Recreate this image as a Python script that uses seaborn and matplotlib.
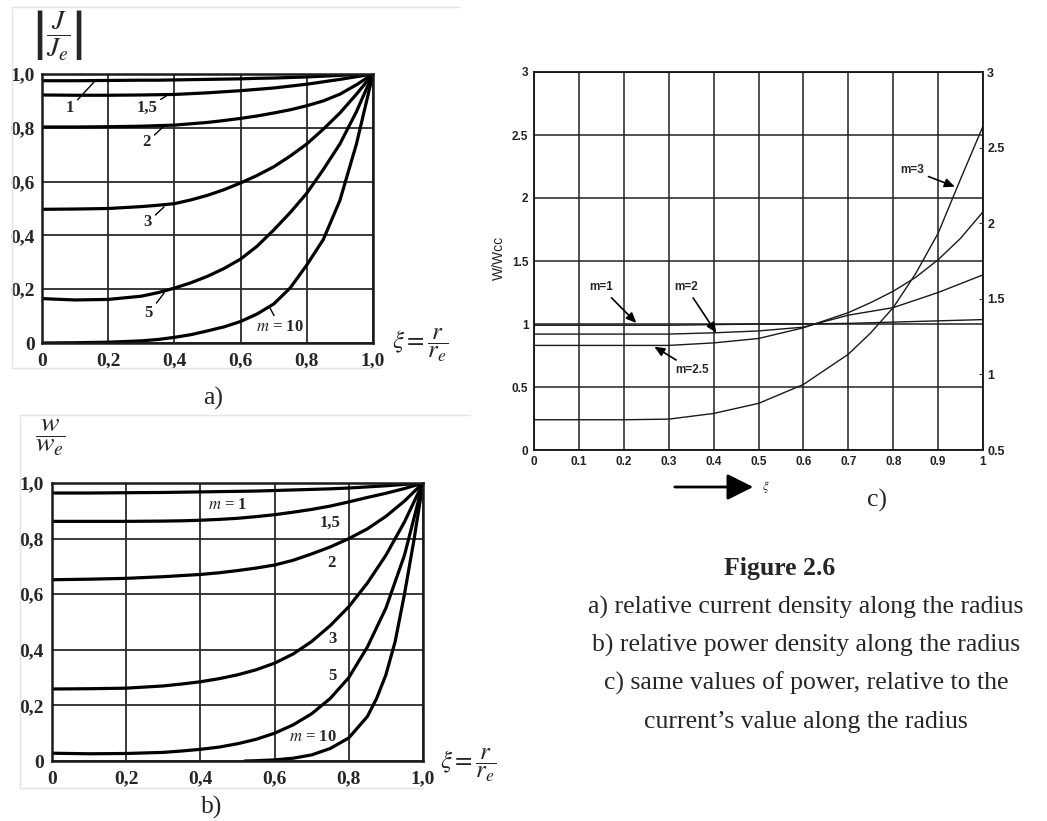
import pandas as pd
import matplotlib
matplotlib.use('Agg')
import matplotlib.pyplot as plt
from matplotlib.lines import Line2D
from matplotlib.patches import FancyArrowPatch
import seaborn as sns

sns.set_theme(style='white')
plt.rcParams['font.family'] = ['Liberation Serif', 'DejaVu Serif']
plt.rcParams['mathtext.fontset'] = 'stix'

W, H = 1047, 821

# --- data ---
# a) |J/Je| vs xi
xi_a = [0, 0.1, 0.2, 0.3, 0.35, 0.4, 0.45, 0.5, 0.55, 0.6, 0.65, 0.7, 0.75, 0.8, 0.85, 0.9, 0.95, 1.0]
j_m1 = [0.975, 0.975, 0.976, 0.977, 0.977, 0.978, 0.979, 0.98, 0.981, 0.982, 0.984, 0.985, 0.987, 0.989, 0.992, 0.995, 0.998, 1.0]
j_m15 = [0.922, 0.921, 0.921, 0.922, 0.923, 0.924, 0.927, 0.93, 0.934, 0.938, 0.943, 0.948, 0.955, 0.962, 0.971, 0.98, 0.99, 1.0]
j_m2 = [0.803, 0.803, 0.804, 0.806, 0.808, 0.81, 0.815, 0.82, 0.827, 0.835, 0.844, 0.855, 0.867, 0.882, 0.9, 0.925, 0.96, 1.0]
j_m3 = [0.497, 0.498, 0.5, 0.507, 0.512, 0.518, 0.532, 0.549, 0.57, 0.595, 0.623, 0.655, 0.695, 0.74, 0.795, 0.855, 0.925, 1.0]
j_m5 = [0.165, 0.16, 0.162, 0.174, 0.187, 0.204, 0.224, 0.248, 0.277, 0.312, 0.36, 0.42, 0.485, 0.557, 0.645, 0.74, 0.86, 1.0]
j_m10 = [0, 0.001, 0.003, 0.008, 0.013, 0.021, 0.031, 0.045, 0.06, 0.08, 0.108, 0.145, 0.205, 0.29, 0.385, 0.53, 0.74, 1.0]

# b) w/we vs xi
xi_b = [0, 0.1, 0.2, 0.3, 0.35, 0.4, 0.45, 0.5, 0.55, 0.6, 0.65, 0.7, 0.75, 0.8, 0.85, 0.9, 0.95, 1.0]
w_m1 = [0.964, 0.964, 0.965, 0.966, 0.967, 0.968, 0.969, 0.97, 0.971, 0.973, 0.975, 0.977, 0.979, 0.982, 0.986, 0.99, 0.995, 1.0]
w_m15 = [0.862, 0.862, 0.862, 0.863, 0.864, 0.866, 0.869, 0.873, 0.879, 0.886, 0.895, 0.905, 0.917, 0.932, 0.948, 0.963, 0.98, 1.0]
w_m2 = [0.652, 0.654, 0.657, 0.663, 0.667, 0.671, 0.677, 0.685, 0.694, 0.705, 0.722, 0.745, 0.77, 0.8, 0.835, 0.88, 0.935, 1.0]
w_m3 = [0.259, 0.26, 0.262, 0.27, 0.277, 0.285, 0.296, 0.31, 0.328, 0.352, 0.385, 0.43, 0.487, 0.555, 0.64, 0.74, 0.86, 1.0]
w_m5 = [0.028, 0.026, 0.027, 0.031, 0.036, 0.042, 0.05, 0.062, 0.078, 0.1, 0.13, 0.17, 0.225, 0.3, 0.41, 0.55, 0.74, 1.0]
xi_b10 = [0.52, 0.55, 0.6, 0.65, 0.7, 0.75, 0.8, 0.85, 0.875, 0.9, 0.925, 0.95, 0.975, 1.0]
w_m10 = [0, 0.001, 0.004, 0.01, 0.022, 0.045, 0.083, 0.16, 0.225, 0.31, 0.43, 0.6, 0.79, 1.0]

# c) W/Wcc vs xi
xi_c = [0, 0.1, 0.2, 0.3, 0.4, 0.5, 0.6, 0.7, 0.75, 0.8, 0.85, 0.9, 0.95, 1.0]
c_m1 = [0.99, 0.99, 0.99, 0.99, 0.995, 1.0, 1.0, 1.005, 1.01, 1.015, 1.02, 1.025, 1.03, 1.035]
c_m2 = [0.92, 0.92, 0.92, 0.92, 0.93, 0.945, 0.975, 1.07, 1.1, 1.13, 1.19, 1.25, 1.32, 1.39]
c_m25 = [0.83, 0.83, 0.83, 0.83, 0.85, 0.885, 0.97, 1.09, 1.17, 1.26, 1.37, 1.51, 1.68, 1.89]
c_m3 = [0.24, 0.24, 0.24, 0.245, 0.29, 0.37, 0.52, 0.76, 0.93, 1.13, 1.4, 1.72, 2.15, 2.57]

ticks_ab = [0, 0.2, 0.4, 0.6, 0.8, 1.0]
ticklabels_ab = ['0', '0,2', '0,4', '0,6', '0,8', '1,0']
ticks_cx = [i / 10 for i in range(11)]
ticklabels_cx = ['0', '0.1', '0.2', '0.3', '0.4', '0.5', '0.6', '0.7', '0.8', '0.9', '1']
ticks_cy = [0, 0.5, 1, 1.5, 2, 2.5, 3]
ticklabels_cy = ['0', '0.5', '1', '1.5', '2', '2.5', '3']
ticks_cr = [0.5, 1, 1.5, 2, 2.5, 3]
ticklabels_cr = ['0.5', '1', '1.5', '2', '2.5', '3']


def long_df(x, series):
    parts = []
    for name, vals in series:
        xx = x[name] if isinstance(x, dict) else x
        parts.append(pd.DataFrame({'xi': xx, 'val': vals, 'm': name}))
    return pd.concat(parts, ignore_index=True)


df_a = long_df(xi_a, [('1', j_m1), ('1.5', j_m15), ('2', j_m2), ('3', j_m3), ('5', j_m5), ('10', j_m10)])
df_b = long_df({'1': xi_b, '1.5': xi_b, '2': xi_b, '3': xi_b, '5': xi_b, '10': xi_b10},
               [('1', w_m1), ('1.5', w_m15), ('2', w_m2), ('3', w_m3), ('5', w_m5), ('10', w_m10)])
df_c = long_df(xi_c, [('1', c_m1), ('2', c_m2), ('2.5', c_m25), ('3', c_m3)])

fig = plt.figure(figsize=(W / 100, H / 100), dpi=100)
fig.patch.set_facecolor('white')


def px_axes(l, t, r, b):
    return fig.add_axes([l / W, 1 - b / H, (r - l) / W, (b - t) / H])


def fx(x):
    return x / W


def fy(y):
    return 1 - y / H


# faint borders of the scanned pictures
for (x0, y0, x1, y1) in [(12, 7, 460, 7), (12, 7, 12, 368), (12, 368, 380, 368),
                         (20, 415, 470, 415), (20, 415, 20, 788), (20, 788, 423, 788)]:
    fig.add_artist(Line2D([fx(x0), fx(x1)], [fy(y0), fy(y1)], color='#e4e4e4', lw=1))


def style_ab(ax, xpad, ypad):
    ax.set_xlim(0, 1)
    ax.set_ylim(0, 1)
    ax.set_xticks(ticks_ab)
    ax.set_yticks(ticks_ab)
    ax.set_xticklabels(ticklabels_ab, fontweight='bold', fontsize=14)
    ax.set_yticklabels(ticklabels_ab, fontweight='bold', fontsize=14)
    ax.tick_params(axis='x', length=0, pad=xpad)
    ax.tick_params(axis='y', length=0, pad=ypad)
    ax.grid(True, color='#2a2a2a', lw=1.3)
    for s in ax.spines.values():
        s.set_visible(True)
        s.set_color('#1a1a1a')
        s.set_linewidth(1.8)
    ax.set_xlabel('')
    ax.set_ylabel('')


# ---------------- panel a ----------------
ax_a = px_axes(42, 74, 373, 343)
sns.lineplot(data=df_a, x='xi', y='val', hue='m', palette=['black'] * 6,
             legend=False, linewidth=2.3, ax=ax_a)
style_ab(ax_a, 7, 5)

lead = dict(arrowstyle='-', color='black', lw=1.0, shrinkA=0, shrinkB=0)
for txt, xt, xp in [('1', (0.085, 0.874), (0.157, 0.970)),
                    ('1,5', (0.317, 0.874), (0.375, 0.918)),
                    ('2', (0.317, 0.747), (0.369, 0.807)),
                    ('3', (0.320, 0.450), (0.369, 0.506)),
                    ('5', (0.323, 0.112), (0.369, 0.186)),
                    (r'$m$ = 10', (0.719, 0.06), (0.689, 0.130))]:
    ax_a.annotate(txt, xy=xp, xytext=xt, fontsize=12, fontweight='bold',
                  ha='center', va='center', arrowprops=lead)

fig.text(fx(58), fy(35), r'$\left|\dfrac{J}{J_e}\right|$', fontsize=20, ha='center', va='center')
fig.text(fx(392), fy(345), r'$\xi = \dfrac{r}{r_e}$', fontsize=18, ha='left', va='center')
fig.text(fx(213), fy(398), 'a)', fontsize=18.5, ha='center', va='center')

# ---------------- panel b ----------------
ax_b = px_axes(52, 483, 423, 761)
sns.lineplot(data=df_b, x='xi', y='val', hue='m', palette=['black'] * 6,
             legend=False, linewidth=2.3, ax=ax_b)
style_ab(ax_b, 7, 6)

for txt, pos in [(r'$m$ = 1', (0.474, 0.921)), ('1,5', (0.749, 0.856)), ('2', (0.752, 0.712)),
                 ('3', (0.755, 0.439)), ('5', (0.755, 0.306)), (r'$m$ = 10', (0.704, 0.086))]:
    ax_b.text(pos[0], pos[1], txt, fontsize=12, fontweight='bold', ha='center', va='center')

fig.text(fx(50), fy(438), r'$\dfrac{w}{w_e}$', fontsize=20, ha='center', va='center')
fig.text(fx(440), fy(765), r'$\xi = \dfrac{r}{r_e}$', fontsize=18, ha='left', va='center')
fig.text(fx(212), fy(807), 'b)', fontsize=18.5, ha='center', va='center')

# ---------------- panel c ----------------
sans = ['Liberation Sans', 'DejaVu Sans']
ax_c = px_axes(534, 72, 983, 450)
sns.lineplot(data=df_c, x='xi', y='val', hue='m', palette=['#1a1a1a'] * 4,
             legend=False, linewidth=1.0, ax=ax_c)
ax_c.set_xlim(0, 1)
ax_c.set_ylim(0, 3)
ax_c.set_xticks(ticks_cx)
ax_c.set_yticks(ticks_cy)
ax_c.set_xticklabels(ticklabels_cx, family=sans, fontsize=8.5, fontweight='bold', color='#222')
ax_c.set_yticklabels(ticklabels_cy, family=sans, fontsize=8.5, fontweight='bold', color='#222')
ax_c.tick_params(length=0, pad=4)
ax_c.grid(True, color='#222', lw=1.1)
for s in ax_c.spines.values():
    s.set_visible(True)
    s.set_color('#111')
    s.set_linewidth(1.3)
ax_c.set_xlabel('')
ax_c.set_ylabel('')

ax_r = ax_c.twinx()
ax_r.set_ylim(0.5, 3)
ax_r.set_yticks(ticks_cr)
ax_r.set_yticklabels(ticklabels_cr, family=sans, fontsize=9, fontweight='bold', color='#222')
ax_r.tick_params(axis='y', direction='in', length=3, width=0.8, pad=3, color='#333')
ax_r.grid(False)
for s in ax_r.spines.values():
    s.set_visible(False)

arr = dict(arrowstyle='-|>,head_length=0.5,head_width=0.22', color='black', lw=1.2,
           mutation_scale=12, shrinkA=1, shrinkB=0)
for txt, xt, xp in [('m=3', (0.842, 2.22), (0.9375, 2.09)),
                    ('m=1', (0.150, 1.29), (0.228, 1.008)),
                    ('m=2', (0.339, 1.29), (0.406, 0.93)),
                    ('m=2.5', (0.353, 0.635), (0.268, 0.82))]:
    ax_c.annotate(txt, xy=xp, xytext=xt, family=sans, fontsize=8.5, fontweight='bold',
                  ha='center', va='center', arrowprops=arr)

fig.text(fx(499), fy(258), 'W/Wcc', family=sans, fontsize=10, rotation=90,
         ha='center', va='center', color='#222')
fig.add_artist(FancyArrowPatch(
    (fx(672), fy(487)), (fx(756), fy(487)), transform=fig.transFigure,
    arrowstyle='-|>,head_length=0.8,head_width=0.4', mutation_scale=20, lw=2, color='black'))
fig.text(fx(766), fy(487), r'$\xi$', fontsize=9, ha='center', va='center')
fig.text(fx(877), fy(500), 'c)', fontsize=18.5, ha='center', va='center')

# ---------------- caption ----------------
fig.text(fx(780), fy(568), 'Figure 2.6', fontsize=18.5, fontweight='bold', ha='center', va='center')
for yy, line in [(607, 'a) relative current density along the radius'),
                 (645, 'b) relative power density along the radius'),
                 (683, 'c) same values of power, relative to the'),
                 (722, 'current\u2019s value along the radius')]:
    fig.text(fx(806), fy(yy), line, fontsize=18.5, ha='center', va='center')

fig.savefig('out.png', dpi=100)
